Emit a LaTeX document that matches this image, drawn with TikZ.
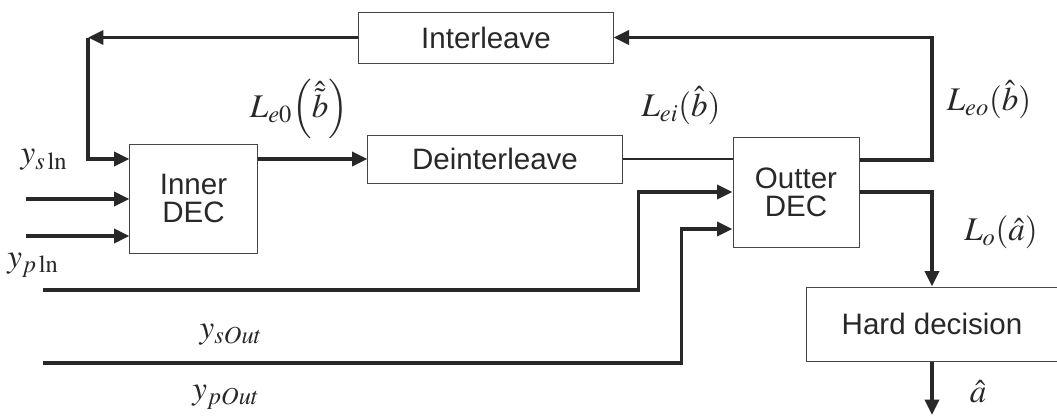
\documentclass[tikz,border=0pt]{standalone}
\usepackage{mathptmx}
\usepackage[no-math]{fontspec}
\setsansfont{Liberation Sans}
\definecolor{inkgray}{RGB}{40,40,40}
\definecolor{boxgray}{RGB}{70,70,70}
\usepackage{tikz}
\usetikzlibrary{arrows.meta, positioning, calc}

\begin{document}
\begin{tikzpicture}[
    x=0.025cm, y=-0.025cm,
    block/.style={rectangle, draw=boxgray, line width=0.7pt, inner sep=0pt,
                  font=\sffamily\fontsize{21}{20}\selectfont, align=center,
                  text=inkgray},
    flow/.style={draw=inkgray, line width=2.4pt,
                 -{Triangle[length=11pt,width=10pt]}},
    thinflow/.style={draw=inkgray, line width=0.8pt},
    lbl/.style={font=\fontsize{23.5}{26}\selectfont, text=inkgray, inner sep=0pt}
]
\useasboundingbox (0,0) rectangle (1057,416);

% blocks
\node[block, minimum width=6.35cm, minimum height=1.275cm] (il) at (486,37.5) {Interleave};
\node[block, minimum width=6.35cm, minimum height=1.2cm] (dil) at (495,159) {Deinterleave};
\node[block, minimum width=3.175cm, minimum height=2.725cm] (inner) at (193.5,198.5) {Inner\\DEC};
\node[block, minimum width=3.15cm, minimum height=2.75cm] (outer) at (796,192) {Outter\\DEC};
\node[block, minimum width=6.25cm, minimum height=1.85cm] (hard) at (932,324) {Hard decision};

% free ends
\coordinate (fb) at (88,37.5);
\coordinate (in2) at (26,199);
\coordinate (in3) at (26,236);
\coordinate (ys) at (43,290);
\coordinate (yp) at (43,363);
\coordinate (ahat) at (932,415);

% feedback loop
\draw[flow] (il.west) -- (fb);
\draw[flow] (fb) |- (inner.west |- dil.west);
\draw[flow] (inner.east |- dil.west) -- (dil.west);
\draw[thinflow] (dil.east) -- (dil.east -| outer.west);
\draw[flow] ($(outer.east)+(0,-32)$) -| ($(hard.north |- il.east)$) -- (il.east);

% channel inputs
\draw[flow] (in2) -- (in2 -| inner.west);
\draw[flow] (in3) -- (in3 -| inner.west);
\draw[flow] (ys) -| ($(outer.west)+(-94,0)$) -- (outer.west);
\draw[flow] (yp) -| ($(outer.west)+(-51,37)$) -- ($(outer.west)+(0,37)$);

% decision
\draw[flow] (outer.east) -| (hard.north);
\draw[flow] (hard.south) -- (ahat);

% labels
\node[lbl] (lysin) at (44,160) {$y_{s\ln}$};
\node[lbl] (lypin) at (33,265) {$y_{p\ln}$};
\node[lbl] (lysout) at (231,335) {$y_{sOut}$};
\node[lbl] (lypout) at (226,397) {$y_{pOut}$};
\node[lbl] (le0) at (299,109) {$L_{e0}\Bigl(\hat{\tilde{b}}\Bigr)$};
\node[lbl] (lei) at (681,106) {$L_{ei}(\hat{b})$};
\node[lbl] (leo) at (989,100) {$L_{eo}(\hat{b})$};
\node[lbl] (lo) at (1001,232) {$L_o(\hat{a})$};
\node[lbl] (lahat) at (978,392) {$\hat{a}$};
\end{tikzpicture}
\end{document}
